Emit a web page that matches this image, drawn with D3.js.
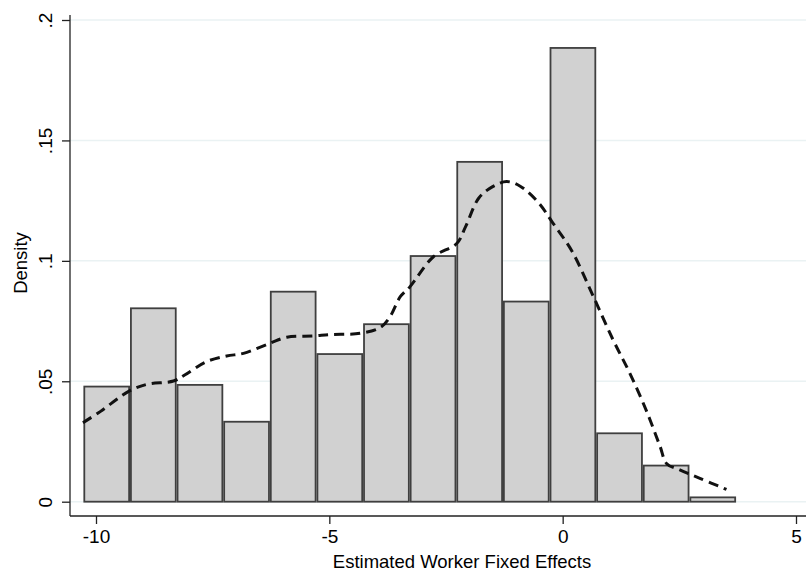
<!DOCTYPE html>
<html>
<head>
<meta charset="utf-8">
<script src="https://cdn.jsdelivr.net/npm/d3@7"></script>
<style>
  html, body { margin: 0; padding: 0; background: #fff; }
  svg { display: block; font-family: "Liberation Sans", Arial, Helvetica, sans-serif; }
</style>
</head>
<body>
<svg id="chart" width="806" height="579"></svg>
<script>
// ---- Data ----
const binStart = -10.27;
const binWidth = 0.999;
const binDensity = [0.0478, 0.0803, 0.0485, 0.0332, 0.0872, 0.0613, 0.0737, 0.1020, 0.1411, 0.0831, 0.1884, 0.0284, 0.0150, 0.0018];

const kdeX = [-10.28, -9.91, -9.30, -8.91, -8.34, -8.10, -7.65, -7.20, -6.84, -6.27, -5.91, -5.34, -4.99, -4.34, -3.91, -3.70, -3.48, -3.27, -2.77, -2.27, -2.08, -1.80, -1.50, -1.20, -0.91, -0.52, -0.22, 0.20, 0.66, 1.08, 1.44, 1.80, 2.09, 2.23, 2.51, 2.94, 3.51];
const kdeY = [0.0328, 0.0374, 0.0458, 0.0487, 0.0501, 0.0526, 0.0580, 0.0605, 0.0616, 0.0658, 0.0683, 0.0688, 0.0694, 0.0699, 0.0723, 0.0768, 0.0851, 0.0893, 0.1017, 0.1072, 0.1142, 0.1260, 0.1308, 0.1329, 0.1310, 0.1242, 0.1160, 0.1040, 0.0851, 0.0672, 0.0533, 0.0375, 0.0228, 0.0158, 0.0132, 0.0097, 0.0051];

const xTicks = [-10, -5, 0, 5];
const yTicks = [0, 0.05, 0.1, 0.15, 0.2];
const yTickLabels = ["0", ".05", ".1", ".15", ".2"];
const xTitle = "Estimated Worker Fixed Effects";
const yTitle = "Density";

// ---- Layout ----
const svg = d3.select("#chart");
const axisLeftX = 70, axisBottomY = 516, axisTopY = 15, rightEdge = 806;
const x = d3.scaleLinear().domain([-10, 5]).range([96, 796]);
const y = d3.scaleLinear().domain([0, 0.2]).range([501.7, 20]);
const tickFont = 19;
const titleFont = 18.5;

// gridlines
svg.append("g").selectAll("line").data(yTicks).join("line")
  .attr("x1", axisLeftX).attr("x2", rightEdge)
  .attr("y1", d => y(d)).attr("y2", d => y(d))
  .attr("stroke", "#eaf2f3").attr("stroke-width", 1.5);

// bars
const bins = binDensity.map((d, i) => ({x0: binStart + i * binWidth, x1: binStart + (i + 1) * binWidth, d}));
svg.append("g").selectAll("rect").data(bins).join("rect")
  .attr("x", b => x(b.x0) + 0.9)
  .attr("width", b => x(b.x1) - x(b.x0) - 1.8)
  .attr("y", b => y(b.d))
  .attr("height", b => y(0) - y(b.d))
  .attr("fill", "#d1d1d1")
  .attr("stroke", "#3f3f3f")
  .attr("stroke-width", 1.8);

// kernel density
const line = d3.line().x((d, i) => x(kdeX[i])).y(d => y(d)).curve(d3.curveCatmullRom.alpha(0.5));
svg.append("path").datum(kdeY)
  .attr("d", line)
  .attr("fill", "none")
  .attr("stroke", "#111")
  .attr("stroke-width", 3)
  .attr("stroke-dasharray", "10,6");

// x axis
const xAxis = svg.append("g").attr("transform", `translate(0,${axisBottomY})`)
  .call(d3.axisBottom(x).tickValues(xTicks).tickFormat(d3.format("d")).tickSize(8).tickSizeOuter(0).tickPadding(6));
xAxis.select(".domain").remove();
xAxis.append("line").attr("x1", axisLeftX).attr("x2", rightEdge).attr("y1", 0).attr("y2", 0)
  .attr("stroke", "#222").attr("stroke-width", 1.3);
xAxis.selectAll(".tick line").attr("stroke", "#222").attr("stroke-width", 1.3);
xAxis.selectAll(".tick text").attr("font-size", tickFont).attr("fill", "#000")
  .attr("font-family", "Liberation Sans, Arial, sans-serif")
  .text(d => d < 0 ? "-" + Math.abs(d) : d);

// y axis
const yAxis = svg.append("g").attr("transform", `translate(${axisLeftX},0)`)
  .call(d3.axisLeft(y).tickValues(yTicks).tickFormat((d, i) => yTickLabels[i]).tickSize(8).tickSizeOuter(0));
yAxis.select(".domain").remove();
yAxis.append("line").attr("x1", 0).attr("x2", 0).attr("y1", axisTopY).attr("y2", axisBottomY)
  .attr("stroke", "#222").attr("stroke-width", 1.3);
yAxis.selectAll(".tick line").attr("stroke", "#222").attr("stroke-width", 1.3);
yAxis.selectAll(".tick text")
  .attr("font-size", tickFont).attr("fill", "#000")
  .attr("font-family", "Liberation Sans, Arial, sans-serif")
  .attr("x", null).attr("dy", null)
  .attr("text-anchor", "middle")
  .attr("transform", `translate(${52 - axisLeftX},0) rotate(-90)`);

// titles
svg.append("text").attr("x", 462).attr("y", 568)
  .attr("text-anchor", "middle").attr("font-size", titleFont).attr("fill", "#000")
  .text(xTitle);
svg.append("text").attr("transform", "translate(27,263) rotate(-90)")
  .attr("text-anchor", "middle").attr("font-size", titleFont).attr("fill", "#000")
  .text(yTitle);
</script>
</body>
</html>
